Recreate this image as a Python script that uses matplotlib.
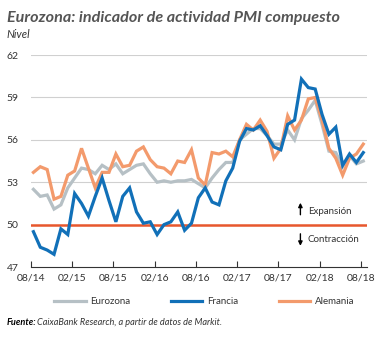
import numpy as np
import matplotlib.pyplot as plt
from matplotlib.lines import Line2D

# monthly PMI readings, 08/14 .. 08/18
eurozona = [52.5, 52.0, 52.1, 51.1, 51.4,
            52.6, 53.3, 54.0, 53.9, 53.6, 54.2, 53.9, 54.3, 53.6, 53.9, 54.2, 54.3,
            53.6, 53.0, 53.1, 53.0, 53.1, 53.1, 53.2, 52.9, 52.6, 53.3, 53.9, 54.4,
            54.4, 56.0, 56.4, 56.8, 56.8, 56.3, 55.7, 55.7, 56.7, 56.0, 57.5, 58.1,
            58.8, 57.1, 55.2, 55.1, 54.1, 54.9, 54.3, 54.5]
francia = [49.5, 48.4, 48.2, 47.9, 49.7,
           49.3, 52.2, 51.5, 50.6, 52.0, 53.3, 51.7, 50.2, 52.0, 52.6, 50.9, 50.1,
           50.2, 49.3, 50.0, 50.2, 50.9, 49.6, 50.1, 51.9, 52.6, 51.6, 51.4, 53.1,
           54.0, 55.9, 56.8, 56.7, 57.0, 56.3, 55.5, 55.3, 57.1, 57.4, 60.3, 59.7,
           59.6, 57.8, 56.4, 56.9, 54.2, 55.0, 54.4, 55.1]
alemania = [53.7, 54.1, 53.9, 51.8, 52.0,
            53.5, 53.8, 55.4, 54.0, 52.6, 53.7, 53.7, 55.0, 54.1, 54.2, 55.2, 55.5,
            54.6, 54.1, 54.0, 53.6, 54.5, 54.4, 55.3, 53.3, 52.8, 55.1, 55.0, 55.2,
            54.8, 56.0, 57.1, 56.7, 57.4, 56.6, 54.7, 55.4, 57.7, 56.7, 57.4, 58.9,
            59.0, 57.4, 55.4, 54.7, 53.5, 54.7, 55.0, 55.7]
tick_labels = ['08/14', '02/15', '08/15', '02/16', '08/16', '02/17', '08/17', '02/18', '08/18']
yticks = [47, 50, 53, 56, 59, 62]

months = np.arange(len(eurozona)) + 0.35

plt.rcParams['font.family'] = ['Lato', 'DejaVu Sans']
txt = '#333333'

fig = plt.figure(figsize=(3.81, 3.38), dpi=100)
ax = fig.add_axes([0.0814, 0.210, 0.882, 0.627])

for y in yticks[1:]:
    ax.axhline(y, color='#d0d0d0', lw=0.8, zorder=0)
ax.axhline(50, color='#e8572d', lw=1.8, zorder=1)

ax.plot(months, eurozona, color='#b6c0c5', lw=2.3, solid_joinstyle='miter', zorder=2)
ax.plot(months, alemania, color='#f39a6c', lw=2.3, solid_joinstyle='miter', zorder=3)
ax.plot(months, francia, color='#1170b8', lw=2.3, solid_joinstyle='miter', zorder=4)

ax.set_xlim(0, 48.9)
ax.set_ylim(47, 62)
ax.set_yticks(yticks)
ax.set_xticks(np.arange(0, 49, 6))
ax.set_xticklabels(tick_labels)
for s in ['top', 'right', 'left']:
    ax.spines[s].set_visible(False)
ax.spines['bottom'].set_color('#333333')
ax.spines['bottom'].set_linewidth(0.8)
ax.tick_params(axis='x', direction='in', length=4, width=0.8, color='#333333',
               labelsize=7.5, labelcolor=txt, pad=5)
ax.tick_params(axis='y', length=0, labelsize=7.5, labelcolor=txt, pad=9)

# expansion / contraction notes
arr = dict(arrowstyle='-|>', color='black', lw=1.0, mutation_scale=6, shrinkA=0, shrinkB=0)
ax.annotate('', xy=(39.2, 51.55), xytext=(39.2, 50.7), arrowprops=arr)
ax.annotate('', xy=(39.2, 48.5), xytext=(39.2, 49.35), arrowprops=arr)
ax.text(40.3, 50.95, 'Expansión', fontsize=7, color=txt, va='center')
ax.text(40.3, 48.95, 'Contracción', fontsize=7, color=txt, va='center')

fig.text(0.018, 0.935, 'Eurozona: indicador de actividad PMI compuesto',
         fontsize=11.6, fontweight='bold', style='italic', color='#555555')
fig.text(0.018, 0.888, 'Nivel', fontsize=8, style='italic', color=txt)

handles = [Line2D([], [], color='#b6c0c5', lw=2.3),
           Line2D([], [], color='#1170b8', lw=2.3),
           Line2D([], [], color='#f39a6c', lw=2.3)]
fig.legend(handles, ['Eurozona', 'Francia', 'Alemania'], loc='center',
           bbox_to_anchor=(0.537, 0.107), ncol=3, frameon=False, fontsize=7,
           handlelength=3.2, handletextpad=0.5, columnspacing=4.2,
           labelcolor=txt)

src = fig.text(0.018, 0.038, 'Fuente:', fontsize=6.6, fontweight='bold', style='italic', color='black')
fig.canvas.draw()
bb = src.get_window_extent().transformed(fig.transFigure.inverted())
fig.text(bb.x1 + 0.002, 0.038, 'CaixaBank Research, a partir de datos de Markit.', fontsize=6.6,
         style='italic', color=txt)

fig.savefig('out.png', dpi=100)
